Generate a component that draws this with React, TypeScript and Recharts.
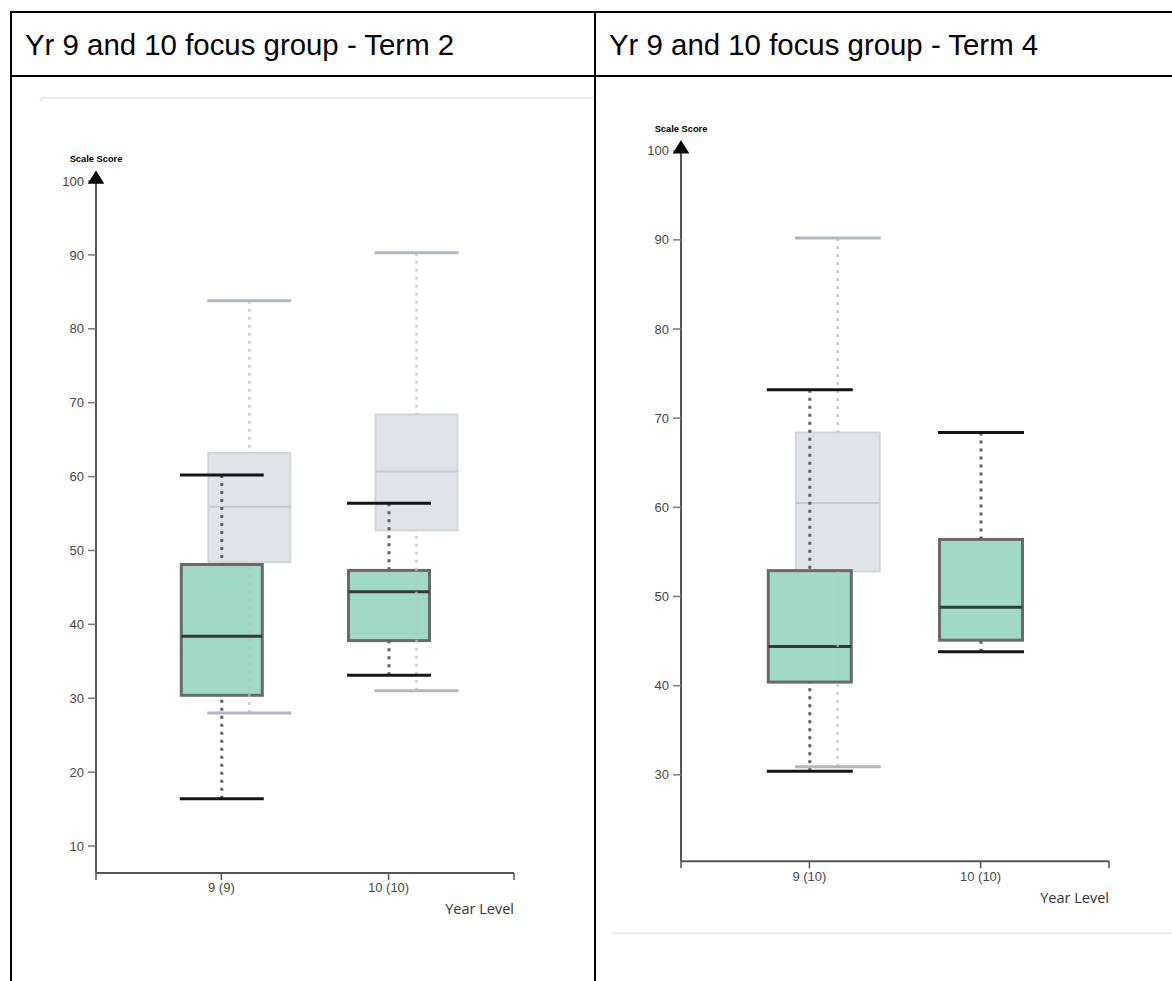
import React from "react";
import { ComposedChart, Bar, XAxis, YAxis } from "recharts";

// Year-level categories (with the number of students in brackets)
const term2Levels = ["9 (9)", "10 (10)"];
const term4Levels = ["9 (10)", "10 (10)"];

// Five-number summaries of scale scores: [min, lower quartile, median, upper quartile, max]
const term2FocusGroup = [
  [16.4, 30.4, 38.4, 48.1, 60.2],
  [33.1, 37.8, 44.4, 47.3, 56.4],
];
const term2Comparison = [
  [28.0, 48.4, 55.9, 63.2, 83.8],
  [31.0, 52.7, 60.7, 68.4, 90.3],
];
const term4FocusGroup = [
  [30.4, 40.4, 44.4, 52.9, 73.2],
  [43.8, 45.1, 48.8, 56.4, 68.4],
];
const term4Comparison = [[30.9, 52.8, 60.5, 68.4, 90.2], null];

// Scale score axis ticks and extents
const term2ScoreTicks = [10, 20, 30, 40, 50, 60, 70, 80, 90, 100];
const term4ScoreTicks = [30, 40, 50, 60, 70, 80, 90, 100];
const term2ScoreDomain = [6.35, 100];
const term4ScoreDomain = [20.3, 100];

type Summary = number[] | null;

const TICK_FONT = "'Liberation Sans', Arial, sans-serif";
const AXIS_COLOUR = "#555555";
const TICK_COLOUR = "#474747";
const Y_AXIS_WIDTH = 76;
const Y_TICK_SIZE = 8;
const Y_TICK_MARGIN = 4;
const X_TICK_SIZE = 7;
const X_TICK_MARGIN = 3;
// space either side of the first/last year level, as a share of one level's spacing
const SLOT_MARGIN = 0.75;

interface BoxStyle {
  fill: string;
  stroke: string;
  boxStroke: number;
  median: string;
  medianWidth: number;
  whisker: string;
  whiskerWidth: number;
  whiskerOpacity: number;
  cap: string;
  capWidth: number;
}

const FOCUS_STYLE: BoxStyle = {
  fill: "#a0d9c5",
  stroke: "#6a6a6a",
  boxStroke: 3,
  median: "#383838",
  medianWidth: 3,
  whisker: "#5f5f5f",
  whiskerWidth: 3,
  whiskerOpacity: 1,
  cap: "#151515",
  capWidth: 3,
};

const COMPARISON_STYLE: BoxStyle = {
  fill: "#e0e3e8",
  stroke: "#d2d6db",
  boxStroke: 2,
  median: "#c3c9cf",
  medianWidth: 2,
  whisker: "#bcc2c8",
  whiskerWidth: 2.5,
  whiskerOpacity: 0.75,
  cap: "#b0b8c0",
  capWidth: 3,
};

function buildRows(levels: string[], focus: Summary[], comparison: Summary[]) {
  return levels.map((level, i) => {
    const f = focus[i];
    const c = comparison[i];
    return {
      level,
      focus: f,
      comparison: c,
      focusBox: f ? [f[1], f[3]] : null,
      focusRange: f ? [f[0], f[4]] : null,
      comparisonBox: c ? [c[1], c[3]] : null,
      comparisonRange: c ? [c[0], c[4]] : null,
    };
  });
}

function validRect(p: any) {
  return [p.x, p.y, p.width, p.height].every((v) => Number.isFinite(v));
}

// Interquartile box with its median line
function makeBoxShape(key: "focus" | "comparison", style: BoxStyle) {
  return (props: any) => {
    const s = props.payload?.[key];
    if (!s || !validRect(props)) return <g />;
    const { x, y, width, height } = props;
    const [, q1, median, q3] = s;
    const top = Math.min(y, y + height);
    const h = Math.abs(height);
    const medianY = top + ((q3 - median) / (q3 - q1)) * h;
    const inset = style.boxStroke / 2;
    return (
      <g>
        <rect
          x={x + inset}
          y={top}
          width={width - 2 * inset}
          height={h}
          fill={style.fill}
          stroke={style.stroke}
          strokeWidth={style.boxStroke}
        />
        <line
          x1={x + inset}
          x2={x + width - inset}
          y1={medianY}
          y2={medianY}
          stroke={style.median}
          strokeWidth={style.medianWidth}
        />
      </g>
    );
  };
}

// Dotted whiskers from the box edges out to the capped min and max
function makeWhiskerShape(key: "focus" | "comparison", style: BoxStyle) {
  return (props: any) => {
    const s = props.payload?.[key];
    if (!s || !validRect(props)) return <g />;
    const { x, y, width, height } = props;
    const [min, q1, , q3, max] = s;
    const top = Math.min(y, y + height);
    const h = Math.abs(height);
    const perUnit = h / (max - min);
    const q3Y = top + (max - q3) * perUnit;
    const q1Y = top + (max - q1) * perUnit;
    const bottom = top + h;
    const cx = x + width / 2;
    const dash = "3 5";
    return (
      <g>
        <line
          x1={cx}
          x2={cx}
          y1={top}
          y2={q3Y}
          stroke={style.whisker}
          strokeWidth={style.whiskerWidth}
          strokeOpacity={style.whiskerOpacity}
          strokeDasharray={dash}
        />
        <line
          x1={cx}
          x2={cx}
          y1={bottom}
          y2={q1Y}
          stroke={style.whisker}
          strokeWidth={style.whiskerWidth}
          strokeOpacity={style.whiskerOpacity}
          strokeDasharray={dash}
        />
        <line x1={x} x2={x + width} y1={top} y2={top} stroke={style.cap} strokeWidth={style.capWidth} />
        <line x1={x} x2={x + width} y1={bottom} y2={bottom} stroke={style.cap} strokeWidth={style.capWidth} />
      </g>
    );
  };
}

// Score axis tick; the top tick carries the axis arrow and the axis title
function makeScoreTick(topValue: number, title: string) {
  return (props: any) => {
    const { x, y, payload } = props;
    const axisX = x + Y_TICK_SIZE + Y_TICK_MARGIN;
    const isTop = payload.value === topValue;
    return (
      <g>
        <text
          x={x}
          y={y}
          dy="0.355em"
          textAnchor="end"
          fill={TICK_COLOUR}
          fontSize={13}
          fontFamily={TICK_FONT}
        >
          {payload.value}
        </text>
        {isTop && (
          <>
            <polygon
              points={`${axisX},${y - 10.5} ${axisX - 8.3},${y + 2.8} ${axisX + 8.3},${y + 2.8}`}
              fill="#000"
            />
            <text
              x={axisX}
              y={y - 19}
              textAnchor="middle"
              fill="#000"
              fontSize={9.3}
              fontWeight="bold"
              fontFamily={TICK_FONT}
            >
              {title}
            </text>
          </>
        )}
      </g>
    );
  };
}

// Year-level tick; the outermost levels also mark the ends of the axis
function makeLevelTick(count: number, edgeOffset: number) {
  return (props: any) => {
    const { x, y, payload } = props;
    const index = payload.index ?? 0;
    const axisY = y - X_TICK_SIZE - X_TICK_MARGIN;
    const edgeTick = (ex: number) => (
      <line x1={ex} x2={ex} y1={axisY} y2={axisY + X_TICK_SIZE} stroke={AXIS_COLOUR} strokeWidth={1.5} />
    );
    return (
      <g>
        {index === 0 && edgeTick(x - edgeOffset)}
        {index === count - 1 && edgeTick(x + edgeOffset)}
        <text
          x={x}
          y={y}
          dy="0.71em"
          textAnchor="middle"
          fill={TICK_COLOUR}
          fontSize={13}
          fontFamily={TICK_FONT}
        >
          {payload.value}
        </text>
      </g>
    );
  };
}

interface PanelProps {
  levels: string[];
  focus: Summary[];
  comparison: Summary[];
  scoreDomain: number[];
  scoreTicks: number[];
  left: number;
  top: number;
  width: number;
  height: number;
  margin: { top: number; right: number; bottom: number; left: number };
  xAxisHeight: number;
  barSize: number;
  comparisonShift: number;
}

function BoxPlotPanel(p: PanelProps) {
  const rows = buildRows(p.levels, p.focus, p.comparison);
  const n = rows.length;
  const plotWidth = p.width - p.margin.left - p.margin.right - Y_AXIS_WIDTH;
  // one level's spacing and the band padding that leaves SLOT_MARGIN of it at each end
  const step = plotWidth / (n - 1 + 2 * SLOT_MARGIN);
  const pad = (plotWidth - n * step) / 2;
  const padFor = (shift: number) => ({ left: pad + shift, right: pad - shift });
  const edgeOffset = SLOT_MARGIN * step;
  const topValue = p.scoreTicks[p.scoreTicks.length - 1];

  return (
    <div style={{ position: "absolute", left: p.left, top: p.top }}>
      <ComposedChart width={p.width} height={p.height} data={rows} margin={p.margin}>
        <YAxis
          type="number"
          domain={p.scoreDomain}
          ticks={p.scoreTicks}
          allowDataOverflow
          interval={0}
          width={Y_AXIS_WIDTH}
          tickSize={Y_TICK_SIZE}
          tickMargin={Y_TICK_MARGIN}
          axisLine={{ stroke: AXIS_COLOUR, strokeWidth: 2 }}
          tickLine={{ stroke: "#7a7a7a", strokeWidth: 1.5 }}
          tick={makeScoreTick(topValue, "Scale Score")}
        />
        <XAxis xAxisId="comparisonBox" dataKey="level" type="category" hide height={0} padding={padFor(p.comparisonShift)} />
        <XAxis xAxisId="comparisonRange" dataKey="level" type="category" hide height={0} padding={padFor(p.comparisonShift)} />
        <XAxis xAxisId="focusRange" dataKey="level" type="category" hide height={0} padding={padFor(0)} />
        <XAxis
          xAxisId="levels"
          dataKey="level"
          type="category"
          padding={padFor(0)}
          interval={0}
          height={p.xAxisHeight}
          tickSize={X_TICK_SIZE}
          tickMargin={X_TICK_MARGIN}
          axisLine={{ stroke: AXIS_COLOUR, strokeWidth: 2 }}
          tickLine={{ stroke: AXIS_COLOUR, strokeWidth: 1.5 }}
          tick={makeLevelTick(n, edgeOffset)}
          label={{
            value: "Year Level",
            position: "insideBottomRight",
            offset: 0,
            fill: "#333",
            fontSize: 14.5,
            fontFamily: "'Open Sans', sans-serif",
          }}
        />
        <Bar
          xAxisId="comparisonBox"
          dataKey="comparisonBox"
          barSize={p.barSize}
          isAnimationActive={false}
          shape={makeBoxShape("comparison", COMPARISON_STYLE)}
        />
        <Bar
          xAxisId="levels"
          dataKey="focusBox"
          barSize={p.barSize}
          isAnimationActive={false}
          shape={makeBoxShape("focus", FOCUS_STYLE)}
        />
        <Bar
          xAxisId="comparisonRange"
          dataKey="comparisonRange"
          barSize={p.barSize}
          isAnimationActive={false}
          shape={makeWhiskerShape("comparison", COMPARISON_STYLE)}
        />
        <Bar
          xAxisId="focusRange"
          dataKey="focusRange"
          barSize={p.barSize}
          isAnimationActive={false}
          shape={makeWhiskerShape("focus", FOCUS_STYLE)}
        />
      </ComposedChart>
    </div>
  );
}

const HEADER_FONT = "'Liberation Sans', Arial, sans-serif";

export default function App() {
  return (
    <div
      style={{
        position: "absolute",
        left: 0,
        top: 0,
        width: 1172,
        height: 981,
        overflow: "hidden",
        background: "#fff",
      }}
    >
      <svg width={1172} height={981} style={{ position: "absolute", left: 0, top: 0 }}>
        {/* table frame */}
        <rect x={10} y={11} width={1162} height={2} fill="#000" />
        <rect x={10} y={75} width={1162} height={2} fill="#000" />
        <rect x={10} y={11} width={2} height={970} fill="#000" />
        <rect x={594} y={11} width={2} height={970} fill="#000" />
        <text x={25} y={55} fontSize={29.4} fontFamily={HEADER_FONT} fill="#000">
          Yr 9 and 10 focus group - Term 2
        </text>
        <text x={609} y={55} fontSize={29.4} fontFamily={HEADER_FONT} fill="#000">
          Yr 9 and 10 focus group - Term 4
        </text>
        {/* card edges around the chart snapshots */}
        <path d="M40,102 Q40,98 44,98 L594,98" fill="none" stroke="#e4e7eb" strokeWidth={1.5} />
        <rect x={612} y={932} width={560} height={2.5} fill="#eeeeee" />
      </svg>

      <BoxPlotPanel
        levels={term2Levels}
        focus={term2FocusGroup}
        comparison={term2Comparison}
        scoreDomain={term2ScoreDomain}
        scoreTicks={term2ScoreTicks}
        left={20}
        top={120}
        width={560}
        height={820}
        margin={{ top: 61, right: 66, bottom: 26, left: 0 }}
        xAxisHeight={41}
        barSize={84}
        comparisonShift={27.5}
      />

      <BoxPlotPanel
        levels={term4Levels}
        focus={term4FocusGroup}
        comparison={term4Comparison}
        scoreDomain={term4ScoreDomain}
        scoreTicks={term4ScoreTicks}
        left={600}
        top={100}
        width={560}
        height={820}
        margin={{ top: 50.7, right: 51, bottom: 16.7, left: 5 }}
        xAxisHeight={42}
        barSize={86}
        comparisonShift={28}
      />
    </div>
  );
}
